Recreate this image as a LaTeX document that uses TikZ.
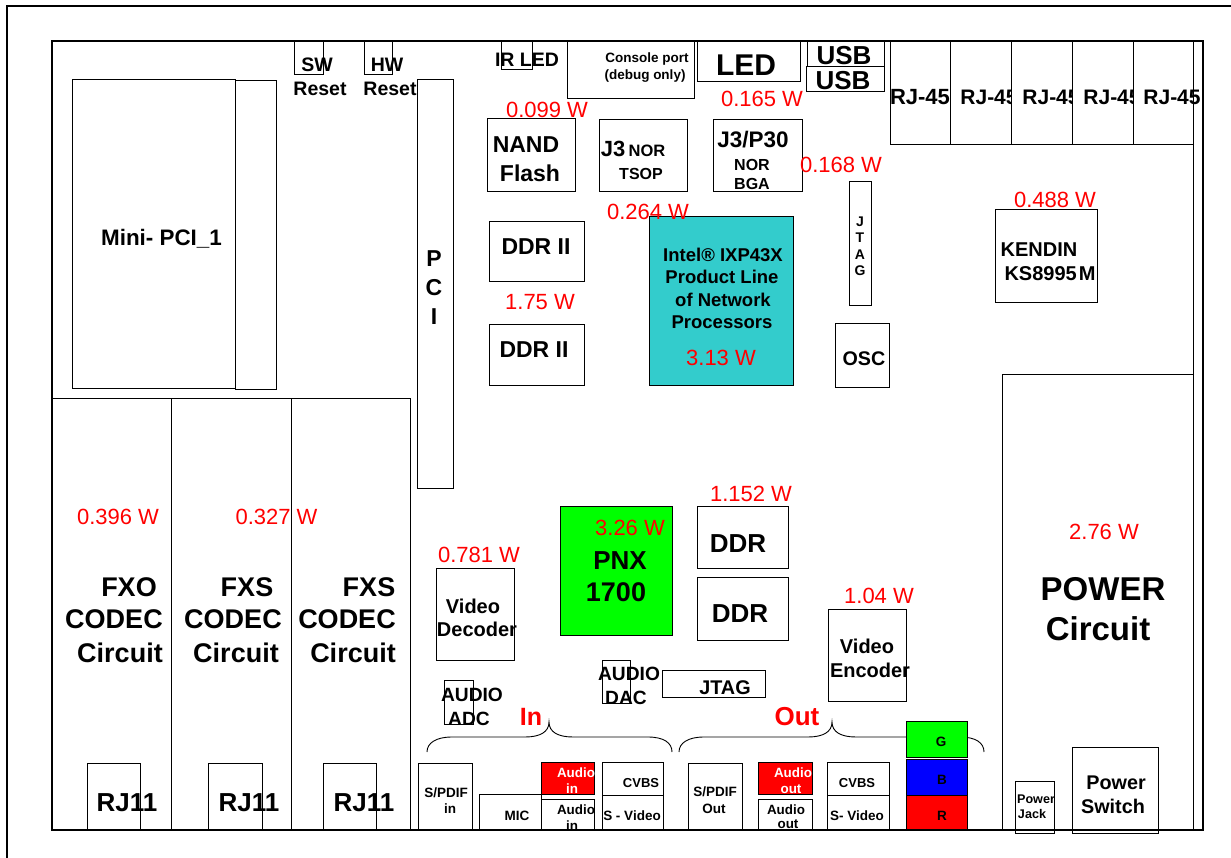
\documentclass[tikz,border=0pt]{standalone}
\usepackage{fontspec}
\setmainfont{Liberation Sans}
\tikzset{
    box/.style={draw=black, line width=1pt, fill=white},
    lab/.style={inner sep=0pt, anchor=base, font=\bfseries\fontsize{#1}{#1}\selectfont},
    watt/.style={inner sep=0pt, anchor=base, red, font=\fontsize{22}{22}\selectfont},
    wlab/.style={lab=#1, white},
    rlab/.style={lab=#1, red}
}
\begin{document}
\begin{tikzpicture}[x=1pt, y=-1pt]
    \path[use as bounding box] (0,0) rectangle (1231,858);

    % Page border
    \draw[line width=1.6pt] (7,858) -- (7,6) -- (1231,6);

    % Mini-PCI and PCI slots
    \draw[box] (72,80) rectangle (235,388);
    \draw[box] (235,81) rectangle (276,389);
    \draw[box] (417,80) rectangle (453,488);
    \node[lab=22.4] (minipci) at (161.5,246) {Mini- PCI\_1};
    \node[lab=23] (pciP) at (434,267) {P};
    \node[lab=23] (pciC) at (434,296) {C};
    \node[lab=23] (pciI) at (434,325) {I};

    % Reset buttons and IR LED
    \draw[box] (294,41) rectangle (323,75);
    \draw[box] (364,41) rectangle (392,75);
    \draw[box] (501,41) rectangle (532,70);
    \node[lab=19.5] (sw) at (317,72) {SW};
    \node[lab=19.5] (swreset) at (320,96) {Reset};
    \node[lab=19.5] (hw) at (387,72) {HW};
    \node[lab=19.5] (hwreset) at (390,96) {Reset};
    \node[lab=19.5] (irled) at (527,67) {IR LED};

    % Console port, LED, USB
    \draw[box] (567,41) rectangle (694,99);
    \draw[box] (697,41) rectangle (800,82);
    \draw[box] (807,41) rectangle (884,67);
    \draw[box] (806,67) rectangle (884,92);
    \node[lab=13.5] (console) at (647,63) {Console port};
    \node[lab=13.5] (debug) at (645,80) {(debug only)};
    \node[lab=30] (led) at (746,76) {LED};
    \node[lab=26] (usbA) at (844,65) {USB};
    \node[lab=26] (usbB) at (843,90) {USB};

    % RJ-45 ports, each box hides the tail of the text before it
    \draw[box] (890,41) rectangle (950,145);
    \node[lab=22] (rjA) at (920,105) {RJ-45};
    \draw[box] (950,41) rectangle (1011,145);
    \node[lab=21] (rjB) at (989,105) {RJ-45};
    \draw[box] (1011,41) rectangle (1072,145);
    \node[lab=21] (rjC) at (1051,105) {RJ-45};
    \draw[box] (1072,41) rectangle (1133,145);
    \node[lab=21] (rjD) at (1112,105) {RJ-45};
    \draw[box] (1133,41) rectangle (1193,145);
    \node[lab=21] (rjE) at (1172,105) {RJ-45};

    % Flash memories
    \draw[box] (487,119) rectangle (575,192);
    \draw[box] (599,120) rectangle (687,192);
    \draw[box] (713,120) rectangle (802,192);
    \node[lab=23] (nand) at (526,153) {NAND};
    \node[lab=23] (flash) at (530,182) {Flash};
    \node[lab=22] (jthree) at (613,157) {J3};
    \node[lab=16.5] (nor) at (647,157) {NOR};
    \node[lab=16] (tsop) at (641,180) {TSOP};
    \node[lab=22.5] (jpthirty) at (753,148) {J3/P30};
    \node[lab=16] (norb) at (752,171) {NOR};
    \node[lab=16] (bga) at (752,190) {BGA};

    % Intel processor and neighbours
    \draw[box] (489,222) rectangle (584,282);
    \draw[box] (489,325) rectangle (584,385);
    \draw[box, fill={rgb,255:red,51;green,204;blue,204}] (649,217) rectangle (793,385);
    \draw[box] (849,182) rectangle (871,306);
    \draw[box] (835,324) rectangle (889,387);
    \draw[box] (995,210) rectangle (1097,303);
    \node[lab=23] (ddrA) at (536,255) {DDR II};
    \node[lab=23] (ddrB) at (534,358) {DDR II};
    \node[lab=18.5] (intel) at (723,262) {Intel® IXP43X};
    \node[lab=18.5] (product) at (722,284) {Product Line};
    \node[lab=18.5] (network) at (723,307) {of Network};
    \node[lab=18.5] (processors) at (722,329) {Processors};
    \node[lab=14] (jtagJ) at (860,227) {J};
    \node[lab=14] (jtagT) at (860,243) {T};
    \node[lab=14] (jtagA) at (860,260) {A};
    \node[lab=14] (jtagG) at (860,276) {G};
    \node[lab=19.7] (osc) at (864,366) {OSC};
    \node[lab=20] (kendin) at (1039,257) {KENDIN};
    \node[lab=20] (ks) at (1050,281) {KS8995\kern2ptM};

    % Codec circuits
    \draw[box] (52,398) rectangle (171,830);
    \draw[box] (171,398) rectangle (291,830);
    \draw[box] (291,398) rectangle (410,830);
    \draw[box] (87,763) rectangle (140,830);
    \draw[box] (208,763) rectangle (262,830);
    \draw[box] (323,763) rectangle (376,830);
    \node[lab=27] (fxo) at (129,596) {FXO};
    \node[lab=27] (codecA) at (114,628) {CODEC};
    \node[lab=27] (circuitA) at (120,662) {Circuit};
    \node[lab=27] (fxsA) at (247,596) {FXS};
    \node[lab=27] (codecB) at (233,628) {CODEC};
    \node[lab=27] (circuitB) at (236,662) {Circuit};
    \node[lab=27] (fxsB) at (369,596) {FXS};
    \node[lab=27] (codecC) at (347,628) {CODEC};
    \node[lab=27] (circuitC) at (353,662) {Circuit};
    \node[lab=26] (rjelevenA) at (127,811) {RJ11};
    \node[lab=26] (rjelevenB) at (249,811) {RJ11};
    \node[lab=26] (rjelevenC) at (364,811) {RJ11};

    % PNX chip and video parts
    \draw[box, fill={rgb,255:red,0;green,255;blue,0}] (560,506) rectangle (672,635);
    \draw[box] (697,506) rectangle (788,568);
    \draw[box] (697,577) rectangle (788,640);
    \draw[box] (436,568) rectangle (514,660);
    \draw[box] (828,609) rectangle (906,701);
    \node[lab=26] (pnx) at (620,569) {PNX};
    \node[lab=27] (seventeen) at (616,601) {1700};
    \node[lab=26] (ddrC) at (738,552) {DDR};
    \node[lab=26] (ddrD) at (740,622) {DDR};
    \node[lab=20] (videoA) at (473,613) {Video};
    \node[lab=20] (decoder) at (477,636) {Decoder};
    \node[lab=20] (videoB) at (867,653) {Video};
    \node[lab=20] (encoder) at (870,677) {Encoder};

    % Audio converters, JTAG
    \draw[box] (444,680) rectangle (473,724);
    \draw[box] (602,660) rectangle (630,703);
    \draw[box] (662,670) rectangle (765,697);
    \node[lab=19.2] (audioA) at (472,701) {AUDIO};
    \node[lab=19.2] (adc) at (469,725) {ADC};
    \node[lab=19.2] (audioB) at (629,680) {AUDIO};
    \node[lab=19.2] (dac) at (626,704) {DAC};
    \node[lab=19.8] (jtagH) at (725,694) {JTAG};

    % In and Out brackets
    \draw[line width=0.9pt] (427,752) .. controls (427,743) and (436,737) .. (452,737) -- (525,737)
        .. controls (540,737) and (549,732) .. (549,722)
        .. controls (549,732) and (558,737) .. (573,737) -- (648,737)
        .. controls (664,737) and (672,743) .. (672,752);
    \draw[line width=0.9pt] (679,752) .. controls (679,743) and (688,737) .. (704,737) -- (808,737)
        .. controls (823,737) and (832,732) .. (832,722)
        .. controls (832,732) and (841,737) .. (856,737) -- (960,737)
        .. controls (976,737) and (984,743) .. (984,752);
    \node[rlab=25] (in) at (531,725) {In};
    \node[rlab=26] (out) at (797,725) {Out};

    % Connectors on the lower edge
    \draw[box] (418,763) rectangle (472,830);
    \draw[box] (479,794) rectangle (541,830);
    \draw[box, fill=red] (541,762) rectangle (594,794);
    \draw[box] (541,799) rectangle (594,830);
    \draw[box] (602,762) rectangle (663,798);
    \draw[box] (602,795) rectangle (663,830);
    \draw[box] (688,763) rectangle (742,830);
    \draw[box, fill=red] (758,762) rectangle (812,794);
    \draw[box] (758,799) rectangle (812,830);
    \draw[box] (827,762) rectangle (889,798);
    \draw[box] (827,795) rectangle (889,830);
    \draw[box, fill=green] (906,721) rectangle (967,757);
    \draw[box, fill=blue] (906,759) rectangle (967,795);
    \draw[box, fill=red] (906,795) rectangle (967,830);
    \node[lab=13.5] (spdifA) at (446,797) {S/PDIF};
    \node[lab=13.5] (spdifin) at (450,813) {in};
    \node[lab=13.5] (mic) at (517,820) {MIC};
    \node[wlab=13.4] (redaudioA) at (576,777) {Audio};
    \node[wlab=13.4] (redin) at (572,793) {in};
    \node[lab=13.4] (audioinA) at (576,814) {Audio};
    \node[lab=13.4] (audioinB) at (572,830) {in};
    \node[lab=13] (cvbsA) at (641,787) {CVBS};
    \node[lab=13.5] (svideoA) at (632,820) {S - Video};
    \node[lab=13.5] (spdifB) at (715,796) {S/PDIF};
    \node[lab=13.5] (spdifout) at (714,813) {Out};
    \node[wlab=13.4] (redaudioB) at (793,777) {Audio};
    \node[wlab=13.4] (redout) at (791,793) {out};
    \node[lab=13.4] (audiooutA) at (786,814) {Audio};
    \node[lab=13.4] (audiooutB) at (788,828) {out};
    \node[lab=13] (cvbsB) at (857,787) {CVBS};
    \node[lab=13.5] (svideoB) at (857,820) {S- Video};
    \node[lab=13.5] (colG) at (941,746) {G};
    \node[lab=13.5] (colB) at (942,784) {B};
    \node[lab=13.5] (colR) at (942,820) {R};

    % Power section
    \draw[box] (1002,374) rectangle (1193,830);
    \draw[box] (1015,781) rectangle (1054,833);
    \draw[box] (1072,747) rectangle (1158,833);
    \node[lab=33] (power) at (1103,600) {POWER};
    \node[lab=33] (circuitD) at (1098,640) {Circuit};
    \node[lab=12.6] (jackA) at (1036,803) {Power};
    \node[lab=12.6] (jackB) at (1032,818) {Jack};
    \node[lab=19.8] (switchA) at (1116,789) {Power};
    \node[lab=19.8] (switchB) at (1113,813) {Switch};

    % Board outline, on top of the connectors
    \draw[line width=1.2pt] (52,41) rectangle (1203,830);
    \draw[line width=1pt] (1193,41) -- (1193,830);

    % Power figures
    \node[watt] (wNand) at (547,118) {0.099 W};
    \node[watt] (wLed) at (762,107) {0.165 W};
    \node[watt] (wJtag) at (841,173) {0.168 W};
    \node[watt] (wNor) at (648,220) {0.264 W};
    \node[watt] (wKendin) at (1055,208) {0.488 W};
    \node[watt] (wDdr) at (540,310) {1.75 W};
    \node[watt] (wIntel) at (721,366) {3.13 W};
    \node[watt] (wFxo) at (118,524) {0.396 W};
    \node[watt] (wFxs) at (276.5,524) {0.327 W};
    \node[watt] (wPnx) at (630,535) {3.26 W};
    \node[watt] (wDdrB) at (751,501) {1.152 W};
    \node[watt] (wDec) at (479,562) {0.781 W};
    \node[watt] (wEnc) at (879,603) {1.04 W};
    \node[watt] (wPower) at (1104,539) {2.76 W};
\end{tikzpicture}
\end{document}
